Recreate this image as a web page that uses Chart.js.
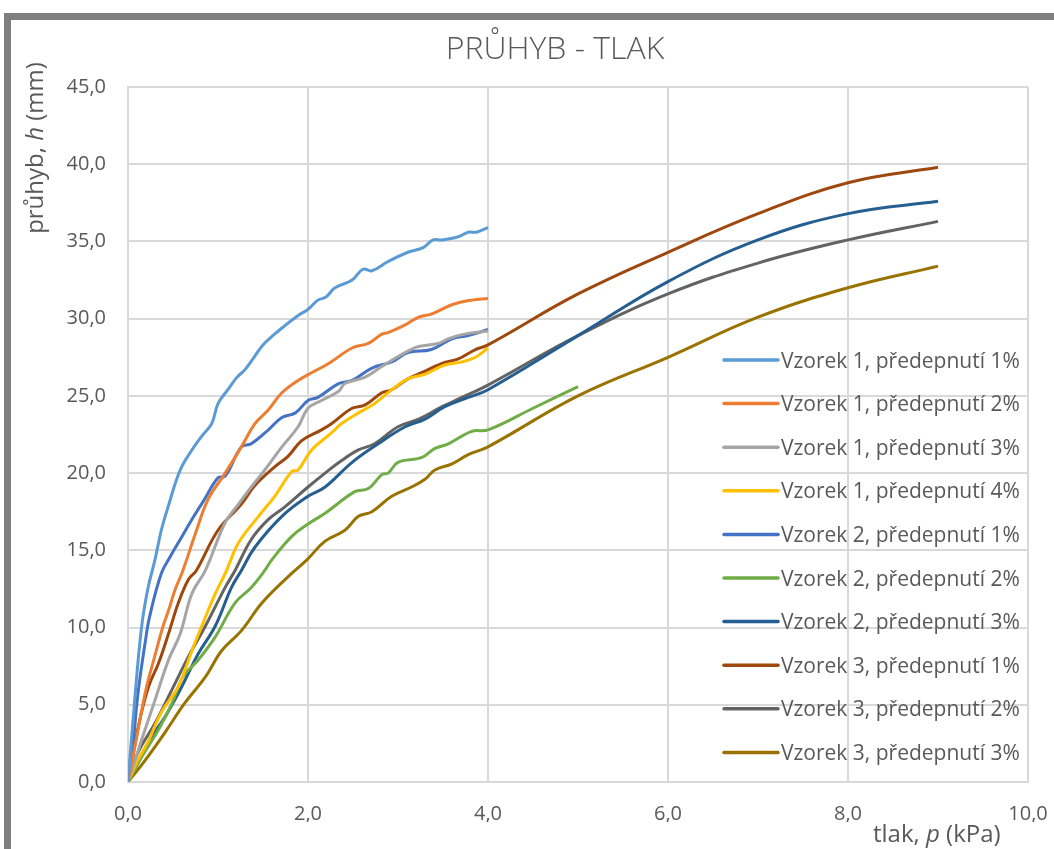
<!DOCTYPE html>
<html>
<head>
<meta charset="utf-8">
<title>PRŮHYB - TLAK</title>
<script src="https://cdn.jsdelivr.net/npm/chart.js@4.4.0/dist/chart.umd.min.js"></script>
<style>
  html, body { margin: 0; padding: 0; background: #fff; overflow: hidden; }
  #frame { position: absolute; left: 4px; top: 13px; width: 1100px; height: 900px;
           border-top: 7px solid #7f7f7f; border-left: 7px solid #7f7f7f; }
  #wrap { position: absolute; left: 0; top: 0; width: 1054px; height: 849px; }
</style>
</head>
<body>
<div id="frame"></div>
<div id="wrap"><canvas id="chart"></canvas></div>
<script>
// tlak p (kPa) / průhyb h (mm)
const v1_1_p = [0, 0.07, 0.15, 0.22, 0.3, 0.37, 0.45, 0.58, 0.71, 0.82, 0.93, 1.0, 1.11, 1.21, 1.3, 1.4, 1.5, 1.67, 1.89, 2.0, 2.11, 2.2, 2.3, 2.49, 2.61, 2.71, 2.89, 3.11, 3.28, 3.39, 3.49, 3.67, 3.78, 3.87, 4.0];
const v1_1_h = [0, 5.0, 10.0, 12.5, 14.4, 16.3, 17.9, 20.2, 21.5, 22.4, 23.2, 24.5, 25.4, 26.2, 26.7, 27.5, 28.3, 29.2, 30.2, 30.6, 31.2, 31.4, 32.0, 32.5, 33.2, 33.1, 33.7, 34.3, 34.6, 35.1, 35.1, 35.3, 35.6, 35.6, 35.9];

const v1_2_p = [0, 0.1, 0.2, 0.3, 0.39, 0.45, 0.52, 0.61, 0.75, 0.89, 1.08, 1.26, 1.41, 1.56, 1.71, 1.89, 2.04, 2.23, 2.49, 2.67, 2.82, 2.89, 3.08, 3.23, 3.37, 3.6, 3.82, 4.0];
const v1_2_h = [0, 3.0, 6.0, 8.2, 10.1, 11.1, 12.4, 13.7, 16.1, 18.3, 20.0, 21.7, 23.2, 24.1, 25.2, 26.0, 26.5, 27.1, 28.1, 28.4, 29.0, 29.1, 29.6, 30.1, 30.3, 30.9, 31.2, 31.3];

const v1_3_p = [0, 0.15, 0.3, 0.45, 0.58, 0.71, 0.86, 1.08, 1.23, 1.37, 1.52, 1.71, 1.89, 2.0, 2.15, 2.34, 2.41, 2.63, 2.82, 2.93, 3.11, 3.23, 3.45, 3.56, 3.74, 4.0];
const v1_3_h = [0, 2.7, 5.3, 7.9, 9.6, 12.2, 13.7, 16.8, 18.0, 19.1, 20.2, 21.7, 23.0, 24.2, 24.7, 25.3, 25.8, 26.2, 26.9, 27.3, 27.9, 28.2, 28.4, 28.7, 29.0, 29.2];

const v1_4_p = [0, 0.1, 0.23, 0.37, 0.56, 0.71, 0.82, 0.97, 1.08, 1.23, 1.45, 1.63, 1.82, 1.89, 2.04, 2.26, 2.37, 2.56, 2.74, 2.93, 3.11, 3.3, 3.52, 3.71, 3.86, 4.0];
const v1_4_h = [0, 1.3, 2.7, 4.5, 6.2, 8.5, 10.1, 12.2, 13.5, 15.5, 17.2, 18.5, 20.1, 20.2, 21.5, 22.6, 23.2, 23.9, 24.5, 25.4, 26.1, 26.4, 27.0, 27.2, 27.5, 28.1];

const v2_1_p = [0, 0.06, 0.11, 0.19, 0.24, 0.37, 0.47, 0.6, 0.71, 0.85, 1.0, 1.08, 1.26, 1.37, 1.56, 1.71, 1.86, 2.0, 2.11, 2.34, 2.49, 2.71, 2.93, 3.11, 3.37, 3.6, 3.78, 4.0];
const v2_1_h = [0, 2.7, 5.7, 9.0, 10.7, 13.5, 14.6, 15.9, 17.0, 18.3, 19.7, 19.8, 21.7, 21.9, 22.8, 23.6, 23.9, 24.7, 24.9, 25.8, 26.0, 26.8, 27.2, 27.8, 28.0, 28.7, 28.9, 29.3];

const v2_2_p = [0, 0.15, 0.34, 0.49, 0.61, 0.78, 0.97, 1.19, 1.37, 1.52, 1.6, 1.82, 2.0, 2.19, 2.52, 2.67, 2.82, 2.89, 3.0, 3.26, 3.41, 3.56, 3.82, 4.0, 4.5, 5.0];
const v2_2_h = [0, 1.6, 3.4, 5.1, 6.8, 7.9, 9.4, 11.6, 12.6, 13.7, 14.4, 15.9, 16.7, 17.4, 18.8, 19.0, 19.9, 20.0, 20.7, 21.0, 21.6, 21.9, 22.7, 22.8, 24.2, 25.6];

const v2_3_p = [0, 0.26, 0.41, 0.6, 0.78, 0.97, 1.15, 1.26, 1.41, 1.71, 2.0, 2.19, 2.49, 2.78, 3.08, 3.3, 3.52, 3.78, 4.0, 5.0, 6.0, 7.0, 8.0, 9.0];
const v2_3_h = [0, 2.9, 4.2, 6.2, 8.3, 10.1, 12.6, 13.7, 15.2, 17.2, 18.5, 19.1, 20.7, 21.9, 23.0, 23.5, 24.3, 24.9, 25.4, 28.9, 32.4, 35.1, 36.8, 37.6];

const v3_1_p = [0, 0.06, 0.13, 0.23, 0.34, 0.45, 0.56, 0.67, 0.76, 1.0, 1.26, 1.41, 1.63, 1.78, 1.93, 2.15, 2.26, 2.49, 2.63, 2.82, 2.93, 3.11, 3.26, 3.49, 3.67, 3.86, 4.0, 5.0, 6.0, 7.0, 8.0, 9.0];
const v3_1_h = [0, 1.9, 4.0, 6.2, 7.7, 9.6, 11.6, 13.1, 13.7, 16.3, 18.0, 19.2, 20.4, 21.1, 22.1, 22.8, 23.2, 24.2, 24.4, 25.2, 25.4, 26.1, 26.5, 27.1, 27.4, 28.0, 28.3, 31.6, 34.3, 36.8, 38.8, 39.8];

const v3_2_p = [0, 0.11, 0.3, 0.49, 0.67, 0.86, 1.08, 1.19, 1.37, 1.56, 1.74, 2.0, 2.19, 2.37, 2.56, 2.74, 3.0, 3.23, 3.49, 3.71, 4.0, 5.0, 6.0, 7.0, 8.0, 9.0];
const v3_2_h = [0, 1.9, 3.8, 6.0, 8.1, 10.1, 12.6, 13.7, 15.7, 17.0, 17.8, 19.1, 20.0, 20.8, 21.5, 21.9, 23.0, 23.5, 24.3, 24.9, 25.7, 28.9, 31.6, 33.6, 35.1, 36.3];

const v3_3_p = [0, 0.19, 0.41, 0.63, 0.86, 1.04, 1.26, 1.49, 1.78, 1.99, 2.19, 2.41, 2.56, 2.71, 2.93, 3.15, 3.3, 3.41, 3.6, 3.78, 4.0, 5.0, 6.0, 7.0, 8.0, 9.0];
const v3_3_h = [0, 1.4, 3.2, 5.1, 6.8, 8.5, 9.8, 11.6, 13.3, 14.4, 15.6, 16.3, 17.2, 17.5, 18.5, 19.1, 19.6, 20.2, 20.6, 21.2, 21.7, 25.0, 27.5, 30.1, 32.0, 33.4];

const seriesNames = [
  'Vzorek 1, předepnutí 1%', 'Vzorek 1, předepnutí 2%', 'Vzorek 1, předepnutí 3%',
  'Vzorek 1, předepnutí 4%', 'Vzorek 2, předepnutí 1%', 'Vzorek 2, předepnutí 2%',
  'Vzorek 2, předepnutí 3%', 'Vzorek 3, předepnutí 1%', 'Vzorek 3, předepnutí 2%',
  'Vzorek 3, předepnutí 3%'
];
const seriesColors = ['#5B9BD5', '#ED7D31', '#A5A5A5', '#FFC000', '#4472C4',
                      '#70AD47', '#255E91', '#9E480E', '#636363', '#997300'];
const seriesP = [v1_1_p, v1_2_p, v1_3_p, v1_4_p, v2_1_p, v2_2_p, v2_3_p, v3_1_p, v3_2_p, v3_3_p];
const seriesH = [v1_1_h, v1_2_h, v1_3_h, v1_4_h, v2_1_h, v2_2_h, v2_3_h, v3_1_h, v3_2_h, v3_3_h];

const chartTitle = 'PRŮHYB - TLAK';
const FONT = "'Open Sans', 'Noto Sans', sans-serif";
const TEXT = '#595959';
const GRID = '#D9D9D9';

const fmt = v => v.toFixed(1).replace('.', ',');

// legend drawn inside the plot area, lower right
const sideLegend = {
  id: 'sideLegend',
  afterDraw(chart) {
    const { ctx, chartArea } = chart;
    const x0 = chartArea.left + 596;
    const y0 = chartArea.top + 273;
    const step = 43.6;
    ctx.save();
    ctx.font = '21px ' + FONT;
    ctx.fillStyle = TEXT;
    ctx.textBaseline = 'alphabetic';
    chart.data.datasets.forEach((ds, i) => {
      const y = y0 + i * step;
      ctx.strokeStyle = ds.borderColor;
      ctx.lineWidth = 3.5;
      ctx.lineCap = 'round';
      ctx.beginPath();
      ctx.moveTo(x0, y);
      ctx.lineTo(x0 + 54, y);
      ctx.stroke();
      ctx.fillText(ds.label, x0 + 57, y + 7.5);
    });
    ctx.restore();
  }
};

// axis titles with italic symbol
function drawParts(ctx, parts, x, y, center) {
  const widths = parts.map(p => { ctx.font = (p[1] ? 'italic ' : '') + '24px ' + FONT; return ctx.measureText(p[0]).width; });
  const total = widths.reduce((a, b) => a + b, 0);
  let cx = center ? x - total / 2 : x;
  parts.forEach((p, i) => {
    ctx.font = (p[1] ? 'italic ' : '') + '24px ' + FONT;
    ctx.fillText(p[0], cx, y);
    cx += widths[i];
  });
}

// chart title + axis titles; the title is centred on the whole Excel frame, which runs past the page
const titles = {
  id: 'titles',
  afterDraw(chart) {
    const { ctx, chartArea } = chart;
    ctx.save();
    ctx.fillStyle = TEXT;
    ctx.textAlign = 'center';
    ctx.textBaseline = 'alphabetic';
    ctx.font = '300 32px ' + FONT;
    ctx.fillText(chartTitle, chartArea.left + 427, chartArea.top - 28);
    ctx.textAlign = 'left';
    drawParts(ctx, [['tlak, ', false], ['p', true], [' (kPa)', false]], chartArea.right - 155, chartArea.bottom + 60, false);
    ctx.translate(chartArea.left - 85, chartArea.top + 61);
    ctx.rotate(-Math.PI / 2);
    drawParts(ctx, [['průhyb, ', false], ['h', true], [' (mm)', false]], 0, 0, true);
    ctx.restore();
  }
};

const datasets = seriesNames.map((name, i) => ({
  label: name,
  data: seriesP[i].map((p, j) => ({ x: p, y: seriesH[i][j] })),
  borderColor: seriesColors[i],
  backgroundColor: seriesColors[i],
  borderWidth: 3,
  pointRadius: 0,
  showLine: true,
  tension: 0.4,
  fill: false
}));

new Chart(document.getElementById('chart'), {
  type: 'scatter',
  data: { datasets: datasets },
  options: {
    responsive: true,
    maintainAspectRatio: false,
    animation: false,
    layout: { padding: { left: 28, right: 26, top: 87, bottom: 27 } },
    plugins: {
      legend: { display: false },
      tooltip: { enabled: false },
      title: { display: false }
    },
    scales: {
      x: {
        type: 'linear',
        min: 0,
        max: 10,
        ticks: { stepSize: 2, color: TEXT, font: { family: FONT, size: 20 }, padding: 20, callback: fmt },
        grid: { color: GRID, lineWidth: 2, drawTicks: false },
        border: { color: GRID, width: 2 },
        afterFit: s => { s.height = 40; s.paddingLeft = 0; s.paddingRight = 0; }
      },
      y: {
        type: 'linear',
        min: 0,
        max: 45,
        ticks: { stepSize: 5, color: TEXT, font: { family: FONT, size: 20 }, padding: 22, callback: fmt },
        grid: { color: GRID, lineWidth: 2, drawTicks: false },
        border: { color: GRID, width: 2 },
        afterFit: s => { s.width = 100; s.paddingTop = 0; s.paddingBottom = 0; }
      }
    }
  },
  plugins: [sideLegend, titles]
});
</script>
</body>
</html>
